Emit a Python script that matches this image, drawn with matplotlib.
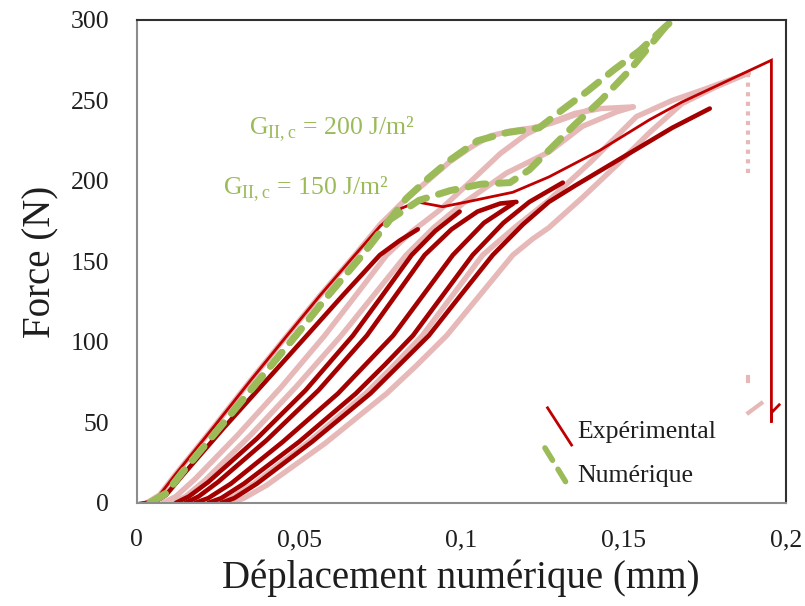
import matplotlib
matplotlib.use("Agg")
import matplotlib.pyplot as plt
from matplotlib.lines import Line2D
from matplotlib.ticker import FuncFormatter

plt.rcParams['font.family'] = ['Liberation Serif', 'DejaVu Serif']
plt.rcParams['mathtext.fontset'] = 'custom'
plt.rcParams['mathtext.rm'] = 'Liberation Serif'

# ---- data (x in mm, force in N) ----
# experimental, light pink curves
p0_x = [0.003, 0.007, 0.012, 0.024, 0.035, 0.0463, 0.0565, 0.0672, 0.075, 0.082, 0.089, 0.0965, 0.103, 0.109, 0.115, 0.122, 0.128, 0.135, 0.1405]
p0_y = [0, 5, 18, 48, 76, 104, 129, 154, 173, 187, 199, 212, 221, 228, 231, 233, 236, 241, 245]
p1_x = [0.008, 0.012, 0.018, 0.031, 0.0445, 0.0579, 0.0675, 0.077, 0.085, 0.0934, 0.102, 0.112, 0.120, 0.127, 0.135, 0.143, 0.153]
p1_y = [0, 4, 15, 42, 72, 104, 129, 154, 169, 182, 198, 217, 229, 236, 242, 245, 246]
p1b_x = [0.011, 0.015, 0.021, 0.035, 0.049, 0.063, 0.073, 0.083, 0.0915, 0.1005, 0.114, 0.127, 0.1374, 0.148, 0.153]
p1b_y = [0, 4, 14, 42, 72, 104, 129, 154, 171, 186, 205, 218, 234, 243, 246]
p2_x = [0.025, 0.029, 0.036, 0.053, 0.0705, 0.079, 0.088, 0.0973, 0.1066, 0.117, 0.127, 0.140, 0.154, 0.165, 0.175, 0.1885]
p2_y = [0, 3, 12, 38, 68, 85, 104, 129, 154, 172, 188, 212, 240, 250, 257, 267]
p3_x = [0.029, 0.033, 0.040, 0.058, 0.077, 0.086, 0.0955, 0.1057, 0.1159, 0.122, 0.127, 0.1375, 0.148, 0.158, 0.168, 0.178, 0.1885]
p3_y = [0, 3, 11, 37, 68, 85, 104, 129, 154, 164, 171, 190, 210, 230, 248, 258, 267]
pdrop_x = [0.1885, 0.1885]
pdrop_y = [267, 204]
pdot_x = [0.1885, 0.1885]
pdot_y = [76, 78]
ptail_x = [0.1885, 0.1925]
ptail_y = [56, 62]

# experimental, dark red curves
d1_x = [0.005, 0.009, 0.014, 0.0265, 0.039, 0.0524, 0.0635, 0.0749, 0.081, 0.0866]
d1_y = [0, 5, 17, 46, 74, 104, 129, 154, 163, 170]
d2_x = [0.012, 0.016, 0.022, 0.037, 0.052, 0.0666, 0.0757, 0.0847, 0.092, 0.0995]
d2_y = [0, 4, 13, 40, 70, 104, 129, 154, 169, 181]
d3_x = [0.015, 0.019, 0.025, 0.040, 0.056, 0.0709, 0.0798, 0.0887, 0.097, 0.105, 0.112, 0.117]
d3_y = [0, 4, 13, 39, 70, 104, 129, 154, 170, 181, 186, 187]
d4_x = [0.018, 0.022, 0.029, 0.045, 0.062, 0.0705, 0.079, 0.0882, 0.0974, 0.107, 0.116]
d4_y = [0, 3, 12, 38, 68, 86, 104, 129, 154, 174, 186]
d5_x = [0.022, 0.026, 0.033, 0.050, 0.0675, 0.0765, 0.0851, 0.0943, 0.1035, 0.113, 0.121, 0.127, 0.1313]
d5_y = [0, 3, 12, 38, 68, 86, 104, 129, 154, 174, 187, 194, 199]
d6_x = [0.026, 0.030, 0.037, 0.054, 0.072, 0.081, 0.090, 0.0998, 0.1097, 0.119, 0.127, 0.135, 0.145, 0.155, 0.165, 0.1766]
d6_y = [0, 3, 12, 38, 68, 86, 104, 129, 154, 173, 187, 197, 209, 221, 233, 245]

# experimental, bright red curve (with failure drop)
e_x = [0.001, 0.004, 0.007, 0.012, 0.024, 0.035, 0.0463, 0.0565, 0.0672, 0.075, 0.0815, 0.0863, 0.0943, 0.1017, 0.1159, 0.127, 0.1427, 0.158, 0.168, 0.1956, 0.1956, 0.1956, 0.198]
e_y = [0, 1, 5, 18, 48, 76, 104, 129, 154, 172, 183, 187, 184, 187, 193, 202.5, 219, 238, 249, 275, 50, 56, 61]

# numerical curves
g150_x = [0.004, 0.009, 0.014, 0.026, 0.0375, 0.049, 0.059, 0.0695, 0.078, 0.087, 0.0965, 0.106, 0.115, 0.121, 0.127, 0.135, 0.143, 0.152, 0.161, 0.1655]
g150_y = [0, 6, 19, 48, 76, 104, 129, 154, 176, 188, 194, 198, 199, 207, 219, 235, 250, 269, 291, 302]
g200_x = [0.004, 0.009, 0.014, 0.026, 0.0375, 0.049, 0.059, 0.0695, 0.078, 0.083, 0.090, 0.0965, 0.105, 0.114, 0.124, 0.131, 0.139, 0.147, 0.155, 0.163, 0.1665]
g200_y = [0, 6, 19, 48, 76, 104, 129, 154, 176, 189, 202, 213, 225, 230, 233, 244, 256, 269, 281, 296, 302]

pink = '#E6B9B8'
dark = '#A50000'
red = '#C00000'
green = '#9BBB59'
txt = '#1E1E1E'

fig = plt.figure(figsize=(8.05, 6.06), dpi=100)
ax = fig.add_axes([0.170, 0.170, 0.806, 0.797])

for xs, ys in [(p0_x, p0_y), (p1_x, p1_y), (p1b_x, p1b_y), (p2_x, p2_y), (p3_x, p3_y)]:
    ax.plot(xs, ys, color=pink, lw=3.9, solid_capstyle='round', solid_joinstyle='round')
ax.plot(pdrop_x, pdrop_y, color=pink, lw=3.0, ls=(0, (1, 1.3)))
ax.plot(pdot_x, pdot_y, color=pink, lw=3.0)
ax.plot(ptail_x, ptail_y, color=pink, lw=3.0)

for xs, ys in [(d1_x, d1_y), (d2_x, d2_y), (d3_x, d3_y), (d4_x, d4_y), (d5_x, d5_y), (d6_x, d6_y)]:
    ax.plot(xs, ys, color=dark, lw=3.3, solid_capstyle='round', solid_joinstyle='round')

ax.plot(e_x, e_y, color=red, lw=2.0, solid_joinstyle='miter')

for xs, ys in [(g150_x, g150_y), (g200_x, g200_y)]:
    ax.plot(xs, ys, color=green, lw=5.0, ls=(0, (2.6, 1.8)), dash_capstyle='round')

ax.set_xlim(0, 0.2)
ax.set_ylim(0, 300)
ax.set_xticks([0, 0.05, 0.1, 0.15, 0.2])
ax.set_yticks(range(0, 301, 50))
ax.xaxis.set_major_formatter(FuncFormatter(lambda v, p: ('%g' % v).replace('.', ',')))
ax.tick_params(axis='both', length=0, labelsize=18.5, colors=txt)
ax.tick_params(axis='x', pad=19)
ax.tick_params(axis='y', pad=20)

for s in ['left', 'bottom']:
    ax.spines[s].set_color('#8C8C8C')
    ax.spines[s].set_linewidth(1.5)
for s in ['top', 'right']:
    ax.spines[s].set_color('#303030')
    ax.spines[s].set_linewidth(1.5)

ax.set_xlabel('Déplacement numérique (mm)', fontsize=28, color=txt, labelpad=6)
ax.set_ylabel('Force (N)', fontsize=28, color=txt, labelpad=8)

ax.text(0.0601, 232, r'G$_{\mathrm{II,c}}$ = 200 J/m²', color=green, fontsize=18.5, ha='center', va='center')
ax.text(0.0521, 195, r'G$_{\mathrm{II,c}}$ = 150 J/m²', color=green, fontsize=18.5, ha='center', va='center')

# legend, Excel style with slanted keys
ax.add_line(Line2D([0.633, 0.670], [0.197, 0.120], transform=ax.transAxes, color=red, lw=2.0))
ax.add_line(Line2D([0.629, 0.664], [0.114, 0.037], transform=ax.transAxes, color=green, lw=4.0,
                   ls=(0, (2.6, 1.9)), dash_capstyle='round'))
ax.text(0.679, 0.147, 'Expérimental', transform=ax.transAxes, fontsize=18.5, color=txt, va='center')
ax.text(0.679, 0.056, 'Numérique', transform=ax.transAxes, fontsize=18.5, color=txt, va='center')

fig.savefig('out.png', dpi=100)
